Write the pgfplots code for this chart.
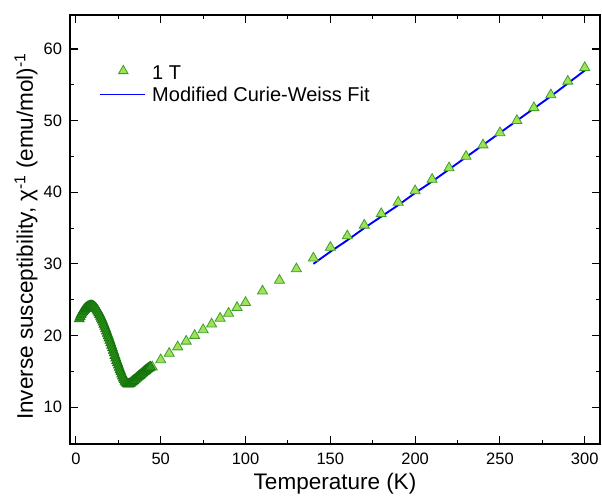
\documentclass[border=0pt]{standalone}
\usepackage{fontspec}
\setmainfont{Liberation Sans}
\usepackage{pgfplots}
\pgfplotsset{compat=1.18}

\definecolor{markfill}{RGB}{160,225,90}
\definecolor{markedge}{RGB}{60,160,40}
\definecolor{densefill}{RGB}{45,145,28}
\definecolor{denseedge}{RGB}{20,115,10}

\begin{document}
\begin{tikzpicture}
\begin{axis}[
  name=ax,
  width=530pt, height=429pt, scale only axis,
  xmin=-3.5, xmax=309, ymin=4.85, ymax=64.75,
  xtick={0,50,...,300}, ytick={10,20,...,60},
  minor x tick num=1, minor y tick num=1,
  tick align=inside, major tick length=8pt, minor tick length=4pt,
  axis line style={line width=1.2pt}, every tick/.style={line width=1.1pt, black},
  ticklabel style={font=\fontsize{16.5}{18}\selectfont},
  xticklabel style={yshift=-5pt},
  yticklabel style={xshift=-4.5pt},
  /pgf/number format/assume math mode=true,
  xlabel={Temperature (K)},
  ylabel={Inverse susceptibility, χ\textsuperscript{-1} (emu/mol)\textsuperscript{-1}},
  label style={font=\fontsize{22.5}{25}\selectfont},
  xlabel style={at={(rel axis cs:0.5,0)}, anchor=north, inner sep=0pt, yshift=-29pt},
  ylabel style={at={(rel axis cs:0,0.5)}, anchor=center, inner sep=0pt, yshift=44pt, xshift=-7pt},
  legend style={draw=none, fill=none, at={(0.055,0.888)}, anchor=north west,
    inner sep=0pt, font=\fontsize{20}{22}\selectfont, row sep=2pt, column sep=4pt},
  legend cell align=left,
]
\addplot[only marks, mark=triangle*, mark size=5.8pt,
  mark options={fill=markfill, draw=markedge, line width=0.8pt},
  legend image code/.code={\draw[mark=triangle*, mark size=5.5pt,
    mark options={fill=markfill, draw=markedge, line width=0.8pt}] plot coordinates {(23pt,2pt)};}]
coordinates {
(45,15.6) (50,16.6) (55,17.5) (60,18.4) (65,19.2) (70,20.0) (75,20.8)
(80,21.6) (85,22.4) (90,23.1) (95,23.9) (100,24.6)
(110,26.2) (120,27.7) (130,29.3) (140,30.8) (150,32.3) (160,33.9)
(170,35.4) (180,37.0) (190,38.6) (200,40.2) (210,41.8) (220,43.4)
(230,45.0) (240,46.6) (250,48.3) (260,50.0) (270,51.8) (280,53.6)
(290,55.5) (300,57.4)
};
\addlegendentry{1 T}
\addplot[blue, line width=1.9pt,
  legend image code/.code={\pgfsetlinewidth{1.9pt}\pgfsetstrokecolor{blue}%
    \pgfpathmoveto{\pgfpointorigin}\pgfpathlineto{\pgfpoint{45pt}{0pt}}\pgfusepath{stroke}}]
coordinates {
(140,30.0) (150,31.7) (160,33.3) (170,35.0) (180,36.6) (190,38.2)
(200,39.9) (210,41.5) (220,43.2) (230,44.9) (240,46.6) (250,48.3)
(260,50.0) (270,51.7) (280,53.4) (290,55.2) (300,57.0)
};
\addlegendentry{Modified Curie-Weiss Fit}
\addplot[only marks, mark=triangle*, mark size=5.8pt, forget plot,
  mark options={fill=densefill, draw=denseedge, line width=0.6pt}]
coordinates {
(2,22.3) (2.5,22.6) (3,22.9) (3.5,23.1) (4,23.3) (4.5,23.45) (5,23.6)
(5.5,23.75) (6,23.85) (6.5,23.93) (7,24.0) (7.5,24.05) (8,24.1) (8.5,24.13)
(9,24.15) (9.5,24.14) (10,24.1) (10.5,24.03) (11,23.95) (11.5,23.83)
(12,23.7) (12.5,23.53) (13,23.35) (13.5,23.13) (14,22.9) (14.5,22.65)
(15,22.4) (15.5,22.13) (16,21.85) (16.5,21.55) (17,21.25) (17.5,20.93)
(18,20.6) (18.5,20.28) (19,19.95) (19.5,19.63) (20,19.3) (20.5,18.95)
(21,18.6) (21.5,18.25) (22,17.9) (22.5,17.55) (23,17.2) (23.5,16.85)
(24,16.5) (24.5,16.18) (25,15.85) (25.5,15.53) (26,15.2) (26.5,14.9)
(27,14.6) (27.5,14.33) (28,14.05) (28.5,13.82) (29,13.6) (29.5,13.45)
(30,13.3) (30.5,13.25) (31,13.2) (31.5,13.25) (32,13.3) (32.5,13.4)
(33,13.5) (33.5,13.6) (34,13.7) (34.5,13.8) (35,13.9) (35.5,14.0)
(36,14.1) (36.5,14.2) (37,14.3) (37.5,14.4) (38,14.5) (38.5,14.6)
(39,14.7) (39.5,14.8) (40,14.9) (40.5,15.0) (41,15.1) (41.5,15.2)
(42,15.3) (42.5,15.38) (43,15.45) (43.5,15.53) (44,15.6)
};
\end{axis}
\pgfresetboundingbox
\path (ax.south west) ++(-70pt,-51pt) coordinate (bl);
\path (ax.north east) ++(2pt,15pt) coordinate (tr);
\path[use as bounding box] (bl) rectangle (tr);
\end{tikzpicture}
\end{document}
